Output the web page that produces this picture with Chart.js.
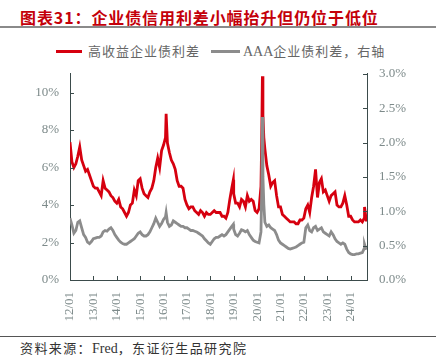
<!DOCTYPE html>
<html>
<head>
<meta charset="utf-8">
<script src="https://cdn.jsdelivr.net/npm/chart.js@4"></script>
<style>
    body { margin: 0; width: 436px; height: 363px; background: #fff; position: relative; overflow: hidden; }
    .title { position: absolute; left: 20px; top: 5px; font: bold 16px "Noto Sans CJK SC"; color: #c4000a; letter-spacing: 0.9px; white-space: nowrap; }
    .rule { position: absolute; left: 0; width: 436px; height: 2px; background: #8a8a8a; }
    .legend { position: absolute; top: 41px; left: 0; width: 436px; font: 13px "Noto Sans CJK SC"; color: #666; letter-spacing: 1px; white-space: nowrap; }
    .legend span.ln { position: absolute; top: 9px; height: 3px; }
    .legend span.tx { position: absolute; top: 0; }
    .aaa { font-family: "Liberation Serif"; font-size: 14px; letter-spacing: 0; }
    .source { position: absolute; left: 20px; top: 338px; font: 13px "Noto Sans CJK SC"; color: #333; letter-spacing: 1.4px; white-space: nowrap; }
    .source .en { font-family: "Liberation Serif"; font-size: 14px; letter-spacing: 0; }
    #wrap { position: absolute; left: 0; top: 54px; width: 436px; height: 277px; }
</style>
</head>
<body>
<div class="title">图表31：企业债信用利差小幅抬升但仍位于低位</div>
<div class="rule" style="top:26px"></div>
<div class="legend">
    <span class="ln" style="left:56px;width:26px;background:#d6000f"></span>
    <span class="tx" style="left:88px">高收益企业债利差</span>
    <span class="ln" style="left:211px;width:29px;background:#8c8c8c"></span>
    <span class="tx" style="left:243px"><span class="aaa">AAA</span>企业债利差，右轴</span>
</div>
<div id="wrap"><canvas id="c"></canvas></div>
<div class="rule" style="top:336px;height:1px;background:#555"></div>
<div class="source">资料来源：<span class="en">Fred</span>，东证衍生品研究院</div>
<script>
const startYear = 2012;
const yearTicks = [2012, 2013, 2014, 2015, 2016, 2017, 2018, 2019, 2020, 2021, 2022, 2023, 2024];
const leftTicks = [0, 2, 4, 6, 8, 10];
const rightTicks = [0, 0.5, 1, 1.5, 2, 2.5, 3];

// monthly readings (1st of each month), Jan 2012 .. Sep 2024
const hyMonthly = [
    7.35, 6.3, 6.0, 6.2, 6.6, 7.1, 6.4, 6.1, 5.8, 5.9, 5.6, 5.3,
    5.0, 4.9, 4.9, 4.7, 4.5, 5.3, 4.9, 4.8, 4.7, 4.5, 4.4, 4.2,
    4.1, 4.3, 3.9, 3.8, 3.6, 3.4, 3.6, 4.0, 4.1, 4.8, 4.5, 5.3,
    5.4, 4.9, 4.6, 4.5, 4.4, 4.7, 4.9, 5.3, 6.0, 6.5, 6.0, 6.9,
    7.2, 7.6, 7.3, 6.8, 6.4, 6.2, 5.9, 5.3, 5.0, 5.0, 4.9, 4.3,
    4.0, 3.8, 3.9, 3.9, 3.7, 3.6, 3.5, 3.7, 3.6, 3.4, 3.6, 3.5,
    3.5, 3.6, 3.7, 3.6, 3.6, 3.6, 3.4, 3.4, 3.3, 3.6, 4.3, 4.9,
    4.6, 4.1, 4.1, 3.9, 4.3, 4.2, 3.9, 4.5, 4.2, 4.3, 4.2, 3.7,
    3.6, 3.8, 5.0, 8.8, 7.0, 6.1, 5.6, 5.0, 5.2, 5.3, 4.5, 3.9,
    3.9, 3.5, 3.4, 3.3, 3.2, 3.1, 3.1, 3.1, 3.0, 3.0, 3.2, 3.2,
    3.3, 3.8, 4.0, 3.6, 4.4, 5.0, 5.9, 4.4, 5.2, 5.4, 4.7, 4.8,
    4.5, 4.2, 4.5, 4.6, 4.7, 4.0, 3.9, 3.9, 4.1, 4.5, 4.0, 3.4,
    3.4, 3.2, 3.1, 3.1, 3.1, 3.2, 3.1, 3.3, 3.2,
];
const aaaMonthly = [
    0.90, 0.80, 0.68, 0.72, 0.84, 0.86, 0.76, 0.66, 0.62, 0.55, 0.53, 0.56,
    0.60, 0.61, 0.62, 0.62, 0.64, 0.70, 0.72, 0.71, 0.74, 0.76, 0.72, 0.66,
    0.62, 0.58, 0.55, 0.53, 0.52, 0.52, 0.54, 0.56, 0.58, 0.60, 0.64, 0.68,
    0.70, 0.66, 0.64, 0.64, 0.66, 0.70, 0.76, 0.82, 0.90, 0.84, 0.78, 0.82,
    0.88, 0.92, 0.84, 0.78, 0.80, 0.86, 0.84, 0.82, 0.80, 0.78, 0.78, 0.76,
    0.76, 0.74, 0.72, 0.72, 0.71, 0.70, 0.68, 0.66, 0.64, 0.60, 0.57, 0.54,
    0.52, 0.56, 0.60, 0.62, 0.62, 0.64, 0.66, 0.64, 0.66, 0.70, 0.74, 0.78,
    0.74, 0.66, 0.64, 0.68, 0.73, 0.72, 0.70, 0.72, 0.66, 0.62, 0.58, 0.56,
    0.55, 0.54, 0.70, 1.50, 0.84, 0.78, 0.80, 0.76, 0.74, 0.72, 0.66, 0.58,
    0.54, 0.52, 0.50, 0.48, 0.46, 0.45, 0.46, 0.47, 0.48, 0.50, 0.52, 0.54,
    0.55, 0.76, 0.80, 0.72, 0.70, 0.76, 0.78, 0.72, 0.74, 0.76, 0.70, 0.68,
    0.66, 0.64, 0.70, 0.66, 0.60, 0.56, 0.54, 0.52, 0.54, 0.52, 0.45, 0.40,
    0.38, 0.37, 0.37, 0.38, 0.38, 0.39, 0.40, 0.46, 0.44,
];

// spikes between month starts
const spikeDates = ["2016-02-11", "2018-12-26", "2020-03-12", "2020-03-23", "2020-04-15", "2024-08-05", "2024-09-10"];
const hySpike = [8.87, 5.35, 7.5, 10.87, 7.6, 3.9, 3.25];
const aaaSpike = [0.98, 0.81, 1.3, 2.37, 1.1, 0.52, 0.44];

function decimalYear(s) {
    const [y, m, d] = s.split("-").map(Number);
    return y + (m - 1) / 12 + (d - 1) / 365;
}

function buildSeries(monthly, spikes) {
    const pts = monthly.map((v, i) => ({ x: startYear + i / 12, y: v }));
    spikeDates.forEach((s, i) => pts.push({ x: decimalYear(s), y: spikes[i] }));
    return pts.sort((a, b) => a.x - b.x);
}

const tickFont = { family: "Liberation Serif", size: 13 };
const tickColor = "#7d8a8a";
const axisColor = "#3b4b4b";

// small inward tick marks on all three axes
const innerTicks = {
    id: "innerTicks",
    afterDraw(chart) {
        const { ctx, chartArea: a, scales } = chart;
        ctx.save();
        ctx.strokeStyle = axisColor;
        ctx.lineWidth = 1;
        ctx.beginPath();
        scales.x.ticks.forEach(t => {
            const px = Math.round(scales.x.getPixelForValue(t.value)) + 0.5;
            ctx.moveTo(px, a.bottom); ctx.lineTo(px, a.bottom - 4);
        });
        scales.y.ticks.forEach(t => {
            const py = Math.round(scales.y.getPixelForValue(t.value)) + 0.5;
            ctx.moveTo(a.left, py); ctx.lineTo(a.left + 4, py);
        });
        scales.y1.ticks.forEach(t => {
            const py = Math.round(scales.y1.getPixelForValue(t.value)) + 0.5;
            ctx.moveTo(a.right, py); ctx.lineTo(a.right - 4, py);
        });
        ctx.stroke();
        ctx.restore();
    },
};

new Chart(document.getElementById("c"), {
    type: "line",
    data: {
        datasets: [{
            label: "AAA企业债利差，右轴",
            data: buildSeries(aaaMonthly, aaaSpike),
            yAxisID: "y1",
            borderColor: "#8c8c8c",
            borderWidth: 2.8,
            pointRadius: 0,
            tension: 0,
        }, {
            label: "高收益企业债利差",
            data: buildSeries(hyMonthly, hySpike),
            yAxisID: "y",
            borderColor: "#d6000f",
            borderWidth: 2.8,
            pointRadius: 0,
            tension: 0,
        }],
    },
    plugins: [innerTicks],
    options: {
        responsive: true,
        maintainAspectRatio: false,
        animation: false,
        layout: { padding: { top: 9, left: 0, right: 0, bottom: 0 } },
        plugins: { legend: { display: false }, tooltip: { enabled: false } },
        scales: {
            x: {
                type: "linear",
                min: 2012,
                max: 2024.7,
                afterBuildTicks: s => { s.ticks = yearTicks.map(v => ({ value: v })); },
                afterFit: s => { s.height = 51; },
                grid: { display: false, drawTicks: false },
                border: { color: axisColor, width: 1 },
                ticks: {
                    font: tickFont, color: tickColor, padding: 12,
                    minRotation: 90, maxRotation: 90,
                    callback: v => String(v).slice(2) + "/01",
                },
            },
            y: {
                position: "left",
                min: 0,
                max: 11,
                afterBuildTicks: s => { s.ticks = leftTicks.map(v => ({ value: v })); },
                afterFit: s => { s.width = 70; },
                grid: { display: false, drawTicks: false },
                border: { color: axisColor, width: 1 },
                ticks: { font: tickFont, color: tickColor, padding: 11, callback: v => v + "%" },
            },
            y1: {
                position: "right",
                min: 0,
                max: 3,
                afterBuildTicks: s => { s.ticks = rightTicks.map(v => ({ value: v })); },
                afterFit: s => { s.width = 69; },
                grid: { display: false, drawTicks: false },
                border: { color: axisColor, width: 1 },
                ticks: { font: tickFont, color: tickColor, padding: 12, callback: v => v.toFixed(1) + "%" },
            },
        },
    },
});
</script>
</body>
</html>
